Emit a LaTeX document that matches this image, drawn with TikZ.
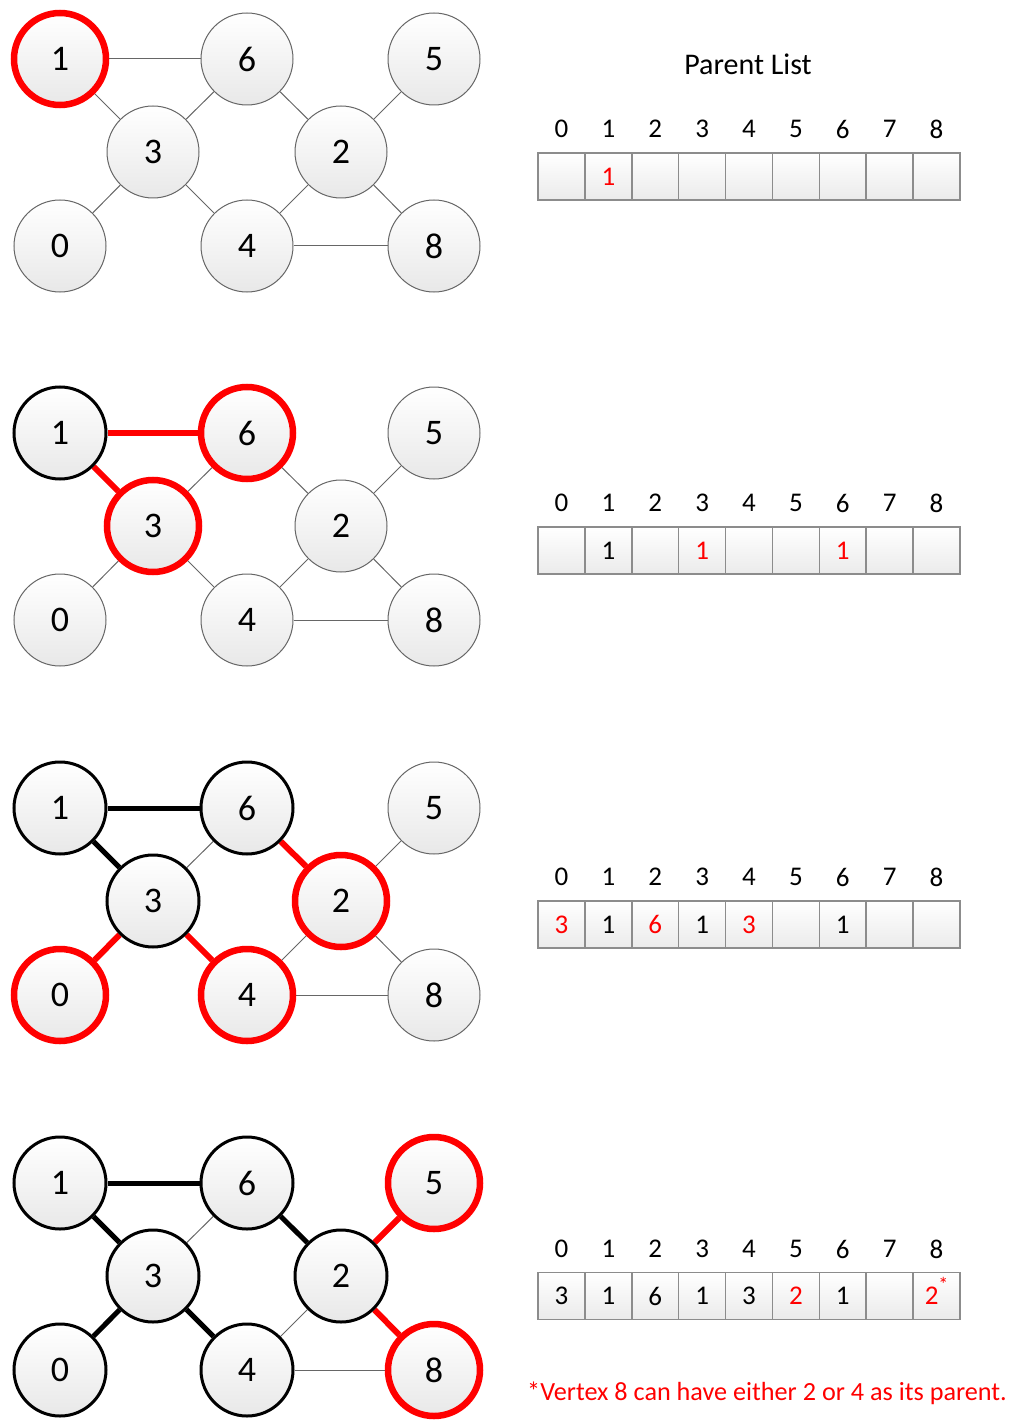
\documentclass[tikz,border=0pt]{standalone}
\usepackage{fontspec}
\setmainfont{Carlito}
\usetikzlibrary{backgrounds}
\newcommand\rd[1]{\textcolor{red}{#1}}
\newcommand\drawpanel[2]{%
\begin{scope}[shift={(0,#2)}]
\node[v1] (#1n1) at (60,59) {1};
\node[v6] (#1n6) at (247,59) {6};
\node[v5] (#1n5) at (434,59) {5};
\node[v3] (#1n3) at (153,152) {3};
\node[v2] (#1n2) at (341,152) {2};
\node[v0] (#1n0) at (60,246) {0};
\node[v4] (#1n4) at (247,246) {4};
\node[v8] (#1n8) at (434,246) {8};
\begin{pgfonlayer}{background}
\draw[e16] (#1n1) -- (#1n6);
\draw[e13] (#1n1) -- (#1n3);
\draw[e36] (#1n3) -- (#1n6);
\draw[e62] (#1n6) -- (#1n2);
\draw[e52] (#1n5) -- (#1n2);
\draw[e30] (#1n3) -- (#1n0);
\draw[e34] (#1n3) -- (#1n4);
\draw[e24] (#1n2) -- (#1n4);
\draw[e28] (#1n2) -- (#1n8);
\draw[e48] (#1n4) -- (#1n8);
\end{pgfonlayer}
\end{scope}}
\newcommand\drawtable[4]{%
\foreach \v [count=\i from 0] in {#4} {
\node[hdr] (#1h\i) at ({538+46.89*(\i+0.5)},#2) {\i};
\node[cell] (#1c\i) at ({538+46.89*(\i+0.5)},#3) {\v};
}}
\begin{document}
\begin{tikzpicture}[x=1pt,y=-1pt,
 vtx/.style={circle,minimum size=92pt,inner sep=0pt,top color=white,bottom color=black!9,font=\fontsize{36}{36}\selectfont},
 vg/.style={vtx,draw=black!60,line width=1pt},
 vr/.style={vtx,draw=red,line width=6.5pt},
 vb/.style={vtx,draw=black,line width=3pt},
 eg/.style={draw=black!60,line width=1pt},
 er/.style={draw=red,line width=6pt},
 eb/.style={draw=black,line width=5pt},
 hdr/.style={font=\fontsize{27}{27}\selectfont,inner sep=0pt},
 cell/.style={draw=black!45,line width=1.5pt,minimum width=46.89pt,minimum height=47pt,inner sep=0pt,outer sep=0pt,top color=white,bottom color=black!8,font=\fontsize{27}{27}\selectfont},
 txt/.style={inner sep=0pt}]
\path[use as bounding box] (0,0) rectangle (1009,1420);
% panel 1
\tikzset{v1/.style={vr},v6/.style={vg},v5/.style={vg},v3/.style={vg},v2/.style={vg},v0/.style={vg},v4/.style={vg},v8/.style={vg},
 e16/.style={eg},e13/.style={eg},e36/.style={eg},e62/.style={eg},e52/.style={eg},e30/.style={eg},e34/.style={eg},e24/.style={eg},e28/.style={eg},e48/.style={eg}}
\drawpanel{a}{0}
% panel 2
\tikzset{v1/.style={vb},v6/.style={vr},v3/.style={vr},
 e16/.style={er},e13/.style={er}}
\drawpanel{b}{374}
% panel 3
\tikzset{v6/.style={vb},v3/.style={vb},v2/.style={vr},v0/.style={vr},v4/.style={vr},
 e16/.style={eb},e13/.style={eb},e62/.style={er},e30/.style={er},e34/.style={er}}
\drawpanel{c}{749}
% panel 4
\tikzset{v2/.style={vb},v0/.style={vb},v4/.style={vb},v5/.style={vr},v8/.style={vr},
 e62/.style={eb},e30/.style={eb},e34/.style={eb},e52/.style={er},e28/.style={er}}
\drawpanel{d}{1124}
% tables
\node[txt,font=\fontsize{30}{30}\selectfont] (title) at (748,64) {Parent List};
\drawtable{ta}{129}{176.5}{{},\rd{1},{},{},{},{},{},{},{}}
\drawtable{tb}{503}{550.5}{{},1,{},\rd{1},{},{},\rd{1},{},{}}
\drawtable{tc}{877}{924.5}{\rd{3},1,\rd{6},1,\rd{3},{},1,{},{}}
\drawtable{td}{1249}{1296}{3,1,6,1,3,\rd{2},1,{},\rd{2\smash{\raisebox{0.5em}{\fontsize{20}{20}\selectfont*}}}}
\node[txt,font=\fontsize{26.2}{26.2}\selectfont,text=red] (note) at (767,1393) {*Vertex 8 can have either 2 or 4 as its parent.};
\end{tikzpicture}
\end{document}
